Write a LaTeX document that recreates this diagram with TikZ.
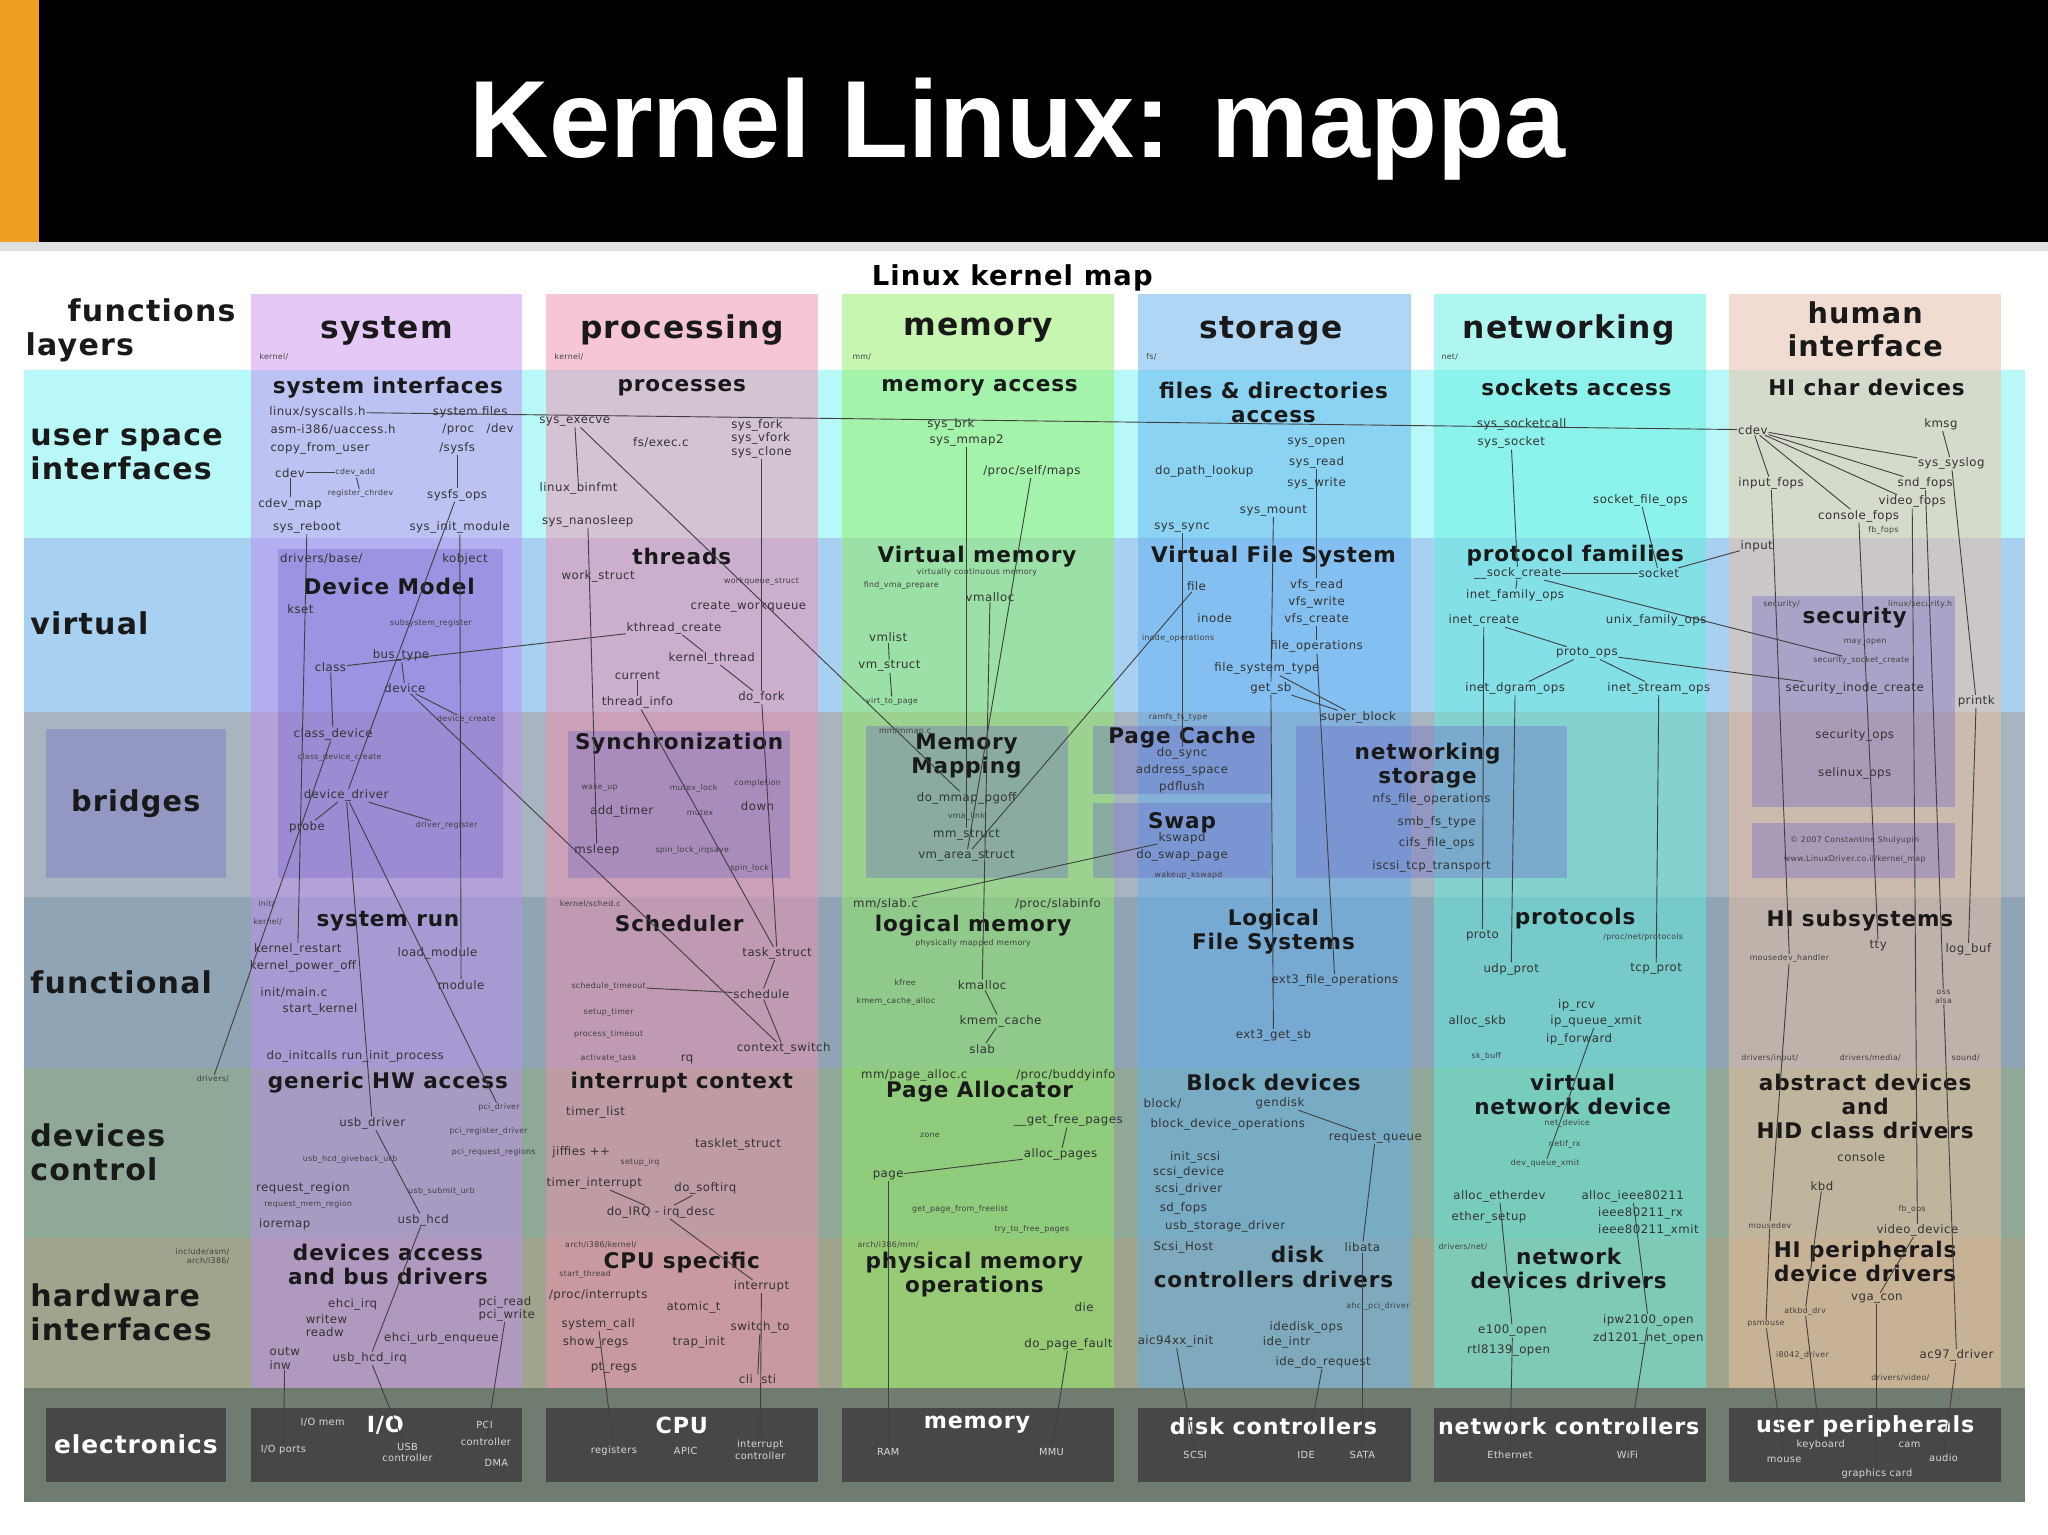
\documentclass[tikz,border=0pt]{standalone}
\usepackage{fontspec}
\setmainfont[LetterSpace=4]{DejaVu Sans}
\newfontfamily\titlefont{Liberation Sans}
\definecolor{bUSI}{HTML}{B8F8F8}
\definecolor{bVIR}{HTML}{A8D0F0}
\definecolor{bBRI}{HTML}{A8B4C0}
\definecolor{bFUN}{HTML}{8FA5B5}
\definecolor{bDEV}{HTML}{8FA898}
\definecolor{bHW}{HTML}{A0A48C}
\definecolor{bEL}{HTML}{707C70}
\definecolor{cSYS}{HTML}{C090F0}
\definecolor{cPRO}{HTML}{F090B0}
\definecolor{cMEM}{HTML}{90F060}
\definecolor{cSTO}{HTML}{60B0F0}
\definecolor{cNET}{HTML}{60F0E0}
\definecolor{cHUM}{HTML}{F0C0A0}
\definecolor{hSYS}{HTML}{E6C8F6}
\definecolor{hPRO}{HTML}{F6C6D6}
\definecolor{hMEM}{HTML}{C6F6B0}
\definecolor{hSTO}{HTML}{B0D6F6}
\definecolor{hNET}{HTML}{B0F6F0}
\definecolor{hHUM}{HTML}{F0DCD0}
\definecolor{iBOX}{HTML}{6A64C8}
\definecolor{orng}{HTML}{F0A020}
\begin{document}
\begin{tikzpicture}[x=1pt,y=-1pt,
  lbl/.style={inner sep=0.5pt,font=\fontsize{9}{10}\selectfont,text=black!80},
  tny/.style={inner sep=0.5pt,font=\fontsize{6}{7}\selectfont,text=black!75},
  hd/.style={inner sep=1pt,font=\fontsize{16.5}{18.5}\selectfont\bfseries,text=black!90,align=center},
  colhd/.style={inner sep=1pt,font=\fontsize{24}{25}\selectfont\bfseries,text=black!90,align=center},
  rowhd/.style={inner sep=1pt,font=\fontsize{23}{26}\selectfont\bfseries,text=black!90,align=left,anchor=west},
  ebox/.style={fill=black!72},
  eh/.style={inner sep=1pt,font=\fontsize{17}{18}\selectfont\bfseries,text=white,align=center},
  el/.style={inner sep=0.5pt,font=\fontsize{7.5}{8.5}\selectfont,text=white!85!black,align=center},
  ibox/.style={fill=iBOX,fill opacity=0.35},
  cn/.style={draw=black!75,line width=0.7pt}]
\useasboundingbox (0,0) rectangle (1568,1175);
\fill[white] (0,0) rectangle (1568,1175);
% title bar
\fill[black] (0,0) rectangle (1568,185);
\fill[orng] (0,0) rectangle (30,185);
\fill[black!12] (0,185) rectangle (1568,192);
\node[inner sep=0,font=\titlefont\fontsize{84}{90}\selectfont\bfseries,text=white] (title) at (779,99) {Kernel Linux: mappa};
\node[inner sep=1pt,font=\fontsize{21}{22}\selectfont\bfseries] (maptitle) at (775,213) {Linux kernel map};
% rows
\fill[bUSI] (18,283) rectangle (1550,412);
\fill[bVIR] (18,412) rectangle (1550,545);
\fill[bBRI] (18,545) rectangle (1550,687);
\fill[bFUN] (18,687) rectangle (1550,818);
\fill[bDEV] (18,818) rectangle (1550,948);
\fill[bHW] (18,948) rectangle (1550,1063);
\fill[bEL] (18,1063) rectangle (1550,1150);
% column headers
\fill[hSYS] (192,225) rectangle (400,283);
\fill[hPRO] (418,225) rectangle (626,283);
\fill[hMEM] (645,225) rectangle (853,283);
\fill[hSTO] (871,225) rectangle (1080,283);
\fill[hNET] (1098,225) rectangle (1306,283);
\fill[hHUM] (1324,225) rectangle (1532,283);
% column overlays
\begin{scope}[fill opacity=0.5]
\fill[cSYS] (192,283) rectangle (400,1063);
\fill[cPRO] (418,283) rectangle (626,1063);
\fill[cMEM] (645,283) rectangle (853,1063);
\fill[cSTO] (871,283) rectangle (1080,1063);
\fill[cNET] (1098,283) rectangle (1306,1063);
\fill[cHUM] (1324,283) rectangle (1532,1063);
\end{scope}
% inner boxes
\fill[ibox] (213,420) rectangle (385,672);
\fill[ibox] (435,560) rectangle (605,672);
\fill[ibox] (663,556) rectangle (818,672);
\fill[ibox] (837,556) rectangle (973,608);
\fill[ibox] (837,615) rectangle (973,672);
\fill[ibox] (992,556) rectangle (1200,672);
\fill[ibox] (1341,456) rectangle (1497,618);
\fill[ibox] (1341,630) rectangle (1497,672);
\fill[ibox] (35,558) rectangle (173,672);
% electronics boxes
\foreach \a/\b in {35/173,192/400,418/626,645/853,871/1080,1098/1306,1324/1532}
  \fill[ebox] (\a,1078) rectangle (\b,1135);
% row labels
\node[rowhd,anchor=center] (rfl) at (100,253) {\hspace*{1.4em}functions\\layers};
\node[rowhd] (rusi) at (22,348) {user space\\interfaces};
\node[rowhd] (rvirt) at (22,477) {virtual};
\node[colhd,font=\fontsize{22}{24}\selectfont\bfseries] (rbr) at (104,615) {bridges};
\node[rowhd] (rfun) at (22,752) {functional};
\node[rowhd] (rdc) at (22,882) {devices\\control};
\node[rowhd] (rhw) at (22,1005) {hardware\\interfaces};
% column headers
\node[colhd] (csys) at (296,253) {system};
\node[colhd] (cproc) at (522,253) {processing};
\node[colhd] (cmem) at (749,253) {memory};
\node[colhd] (csto) at (973,253) {storage};
\node[colhd] (cnet) at (1201,253) {networking};
\node[colhd,font=\fontsize{22}{25}\selectfont\bfseries] (chi) at (1428,252) {human\\interface};
\node[tny,anchor=west] (pk1) at (198,273) {kernel/};
\node[tny,anchor=west] (pk2) at (424,273) {kernel/};
\node[tny,anchor=west] (pk3) at (652,273) {mm/};
\node[tny,anchor=west] (pk4) at (877,273) {fs/};
\node[tny,anchor=west] (pk5) at (1103,273) {net/};
%% ---------------- system column
\node[hd] (sysint) at (297,297) {system interfaces};
\node[lbl] (syscallsh) at (243,316) {linux/syscalls.h};
\node[lbl] (uaccess) at (255,329) {asm-i386/uaccess.h};
\node[lbl] (cfu) at (245,343) {copy\_from\_user};
\node[lbl] (sysfiles) at (360,316) {system files};
\node[lbl] (procdev) at (366,329) {/proc~~~/dev};
\node[lbl] (sysfs) at (350,343) {/sysfs};
\node[lbl] (cdev) at (222,362) {cdev};
\node[tny] (cdevadd) at (272,362) {cdev\_add};
\node[tny] (regchr) at (276,378) {register\_chrdev};
\node[lbl] (cdevmap) at (222,386) {cdev\_map};
\node[lbl] (sysfsops) at (350,379) {sysfs\_ops};
\node[lbl] (sysreboot) at (235,404) {sys\_reboot};
\node[lbl] (sysinit) at (352,404) {sys\_init\_module};
\node[lbl] (drvbase) at (246,428) {drivers/base/};
\node[lbl] (kobject) at (356,428) {kobject};
\node[hd] (devmodel) at (298,449) {Device Model};
\node[lbl] (kset) at (230,466) {kset};
\node[tny] (subsreg) at (330,477) {subsystem\_register};
\node[lbl] (bustype) at (307,502) {bus\_type};
\node[lbl] (class) at (253,511) {class};
\node[lbl] (device) at (310,527) {device};
\node[tny] (devcreate) at (357,551) {device\_create};
\node[lbl] (classdev) at (255,562) {class\_device};
\node[tny] (classdevc) at (260,580) {class\_device\_create};
\node[lbl] (devdrv) at (265,609) {device\_driver};
\node[lbl] (probe) at (235,633) {probe};
\node[tny] (drvreg) at (342,632) {driver\_register};
\node[tny] (init) at (204,692) {init/};
\node[tny] (kernel2) at (205,706) {kernel/};
\node[hd] (sysrun) at (297,705) {system run};
\node[lbl] (krestart) at (228,727) {kernel\_restart};
\node[lbl] (kpoweroff) at (232,740) {kernel\_power\_off};
\node[lbl] (loadmod) at (335,730) {load\_module};
\node[lbl] (mainc) at (225,760) {init/main.c};
\node[lbl] (module) at (353,754) {module};
\node[lbl] (startk) at (245,773) {start\_kernel};
\node[lbl] (initcalls) at (272,809) {do\_initcalls run\_init\_process};
\node[tny] (drivers) at (163,826) {drivers/};
\node[hd] (genhw) at (297,829) {generic HW access};
\node[tny] (pcidrv) at (382,848) {pci\_driver};
\node[lbl] (usbdrv) at (285,860) {usb\_driver};
\node[tny] (pciregdrv) at (374,866) {pci\_register\_driver};
\node[tny] (giveback) at (268,888) {usb\_hcd\_giveback\_urb};
\node[tny] (pcireq) at (378,882) {pci\_request\_regions};
\node[lbl] (reqreg) at (232,910) {request\_region};
\node[tny] (usbsubmit) at (338,912) {usb\_submit\_urb};
\node[tny] (reqmem) at (236,922) {request\_mem\_region};
\node[lbl] (usbhcd) at (324,934) {usb\_hcd};
\node[lbl] (ioremap) at (218,937) {ioremap};
\node[tny,align=right] (incasm) at (155,962) {include/asm/\\arch/i386/};
\node[hd] (devacc) at (297,968) {devices access\\and bus drivers};
\node[lbl] (ehciirq) at (270,999) {ehci\_irq};
\node[lbl,align=left] (pcirw) at (388,1002) {pci\_read\\pci\_write};
\node[lbl,align=left] (writew) at (250,1015) {writew\\readw};
\node[lbl] (ehcienq) at (338,1025) {ehci\_urb\_enqueue};
\node[lbl,align=left] (outw) at (218,1040) {outw\\inw};
\node[lbl] (usbhcdirq) at (283,1040) {usb\_hcd\_irq};
%% ---------------- processing column
\node[hd] (processes) at (522,297) {processes};
\node[lbl] (execve) at (440,323) {sys\_execve};
\node[lbl] (fsexec) at (506,339) {fs/exec.c};
\node[lbl,align=left] (sysfork) at (583,336) {sys\_fork\\sys\_vfork\\sys\_clone};
\node[lbl] (binfmt) at (443,374) {linux\_binfmt};
\node[lbl] (nanosleep) at (450,399) {sys\_nanosleep};
\node[hd] (threads) at (522,426) {threads};
\node[lbl] (workstruct) at (458,441) {work\_struct};
\node[tny] (wqstruct) at (583,445) {workqueue\_struct};
\node[lbl] (createwq) at (573,464) {create\_workqueue};
\node[lbl] (kthread) at (516,481) {kthread\_create};
\node[lbl] (kernthread) at (545,504) {kernel\_thread};
\node[lbl] (current) at (488,517) {current};
\node[lbl] (threadinfo) at (488,538) {thread\_info};
\node[lbl] (dofork) at (583,534) {do\_fork};
\node[hd] (sync) at (520,569) {Synchronization};
\node[tny] (wakeup) at (459,603) {wake\_up};
\node[tny] (mutexlock) at (531,604) {mutex\_lock};
\node[tny] (completion) at (580,600) {completion};
\node[lbl] (addtimer) at (476,621) {add\_timer};
\node[tny] (mutex) at (536,622) {mutex};
\node[lbl] (down) at (580,617) {down};
\node[lbl] (msleep) at (457,651) {msleep};
\node[tny] (spinirq) at (530,651) {spin\_lock\_irqsave};
\node[tny] (spinlock) at (574,665) {spin\_lock};
\node[tny] (schedc) at (452,692) {kernel/sched.c};
\node[hd] (sched) at (520,707) {Scheduler};
\node[lbl] (taskstruct) at (595,730) {task\_struct};
\node[tny] (schedto) at (466,755) {schedule\_timeout};
\node[lbl] (schedule) at (583,761) {schedule};
\node[tny] (setuptimer) at (466,775) {setup\_timer};
\node[tny] (proctimeout) at (466,792) {process\_timeout};
\node[tny] (acttask) at (466,810) {activate\_task};
\node[lbl] (rq) at (526,811) {rq};
\node[lbl] (ctxsw) at (600,803) {context\_switch};
\node[hd] (intctx) at (522,829) {interrupt context};
\node[lbl] (timerlist) at (456,852) {timer\_list};
\node[lbl] (tasklet) at (565,876) {tasklet\_struct};
\node[lbl] (jiffies) at (445,882) {jiffies ++};
\node[tny] (setupirq) at (490,890) {setup\_irq};
\node[lbl] (timerint) at (455,906) {timer\_interrupt};
\node[lbl] (softirq) at (540,910) {do\_softirq};
\node[lbl] (doirq) at (506,928) {do\_IRQ - irq\_desc};
\node[tny] (archk) at (460,953) {arch/i386/kernel/};
\node[hd] (cpuspec) at (522,967) {CPU specific};
\node[tny] (startthr) at (448,976) {start\_thread};
\node[lbl] (interrupt) at (583,985) {interrupt};
\node[lbl] (procint) at (458,992) {/proc/interrupts};
\node[lbl] (atomic) at (531,1001) {atomic\_t};
\node[lbl] (syscall) at (458,1014) {system\_call};
\node[lbl] (switchto) at (582,1016) {switch\_to};
\node[lbl] (showregs) at (456,1028) {show\_regs};
\node[lbl] (trapinit) at (535,1028) {trap\_init};
\node[lbl] (ptregs) at (470,1047) {pt\_regs};
\node[lbl] (clisti) at (580,1056) {cli~~sti};
%% ---------------- memory column
\node[hd] (memacc) at (750,297) {memory access};
\node[lbl] (sysbrk) at (728,325) {sys\_brk};
\node[lbl] (sysmmap) at (740,337) {sys\_mmap2};
\node[lbl] (selfmaps) at (790,361) {/proc/self/maps};
\node[hd] (virtmem) at (748,426) {Virtual memory};
\node[tny] (vcm) at (748,438) {virtually continuous memory};
\node[tny] (findvma) at (690,448) {find\_vma\_prepare};
\node[lbl] (vmalloc) at (758,457) {vmalloc};
\node[lbl] (vmlist) at (680,488) {vmlist};
\node[lbl] (vmstruct) at (681,510) {vm\_struct};
\node[tny] (virtpage) at (683,537) {virt\_to\_page};
\node[tny] (mmapc) at (693,560) {mm/mmap.c};
\node[hd] (memmap) at (740,579) {Memory\\Mapping};
\node[lbl] (dommap) at (740,611) {do\_mmap\_pgoff};
\node[tny] (vmalink) at (740,625) {vma\_link};
\node[lbl] (mmstruct) at (740,639) {mm\_struct};
\node[lbl] (vmarea) at (740,655) {vm\_area\_struct};
\node[lbl] (slabc) at (678,692) {mm/slab.c};
\node[lbl] (slabinfo) at (810,692) {/proc/slabinfo};
\node[hd] (logmem) at (745,709) {logical memory};
\node[tny] (physmapped) at (745,722) {physically mapped memory};
\node[tny] (kfree) at (693,752) {kfree};
\node[lbl] (kmalloc) at (752,754) {kmalloc};
\node[tny] (kmcalloc) at (686,767) {kmem\_cache\_alloc};
\node[lbl] (kmcache) at (766,782) {kmem\_cache};
\node[lbl] (slab) at (752,803) {slab};
\node[lbl] (pagealloc) at (700,823) {mm/page\_alloc.c};
\node[lbl] (buddy) at (816,823) {/proc/buddyinfo};
\node[hd] (pgalloc) at (750,836) {Page Allocator};
\node[lbl] (getfree) at (818,858) {\_\_get\_free\_pages};
\node[tny] (zone) at (712,869) {zone};
\node[lbl] (allocpages) at (812,884) {alloc\_pages};
\node[lbl] (page) at (680,900) {page};
\node[tny] (gpff) at (735,926) {get\_page\_from\_freelist};
\node[tny] (ttfp) at (790,941) {try\_to\_free\_pages};
\node[tny] (archmm) at (680,953) {arch/i386/mm/};
\node[hd] (physmem) at (746,976) {physical memory\\operations};
\node[lbl] (die) at (830,1001) {die};
\node[lbl] (pagefault) at (818,1029) {do\_page\_fault};
%% ---------------- storage column
\node[hd] (filesacc) at (975,308) {files \& directories\\access};
\node[lbl] (sysopen) at (1008,339) {sys\_open};
\node[lbl] (pathlookup) at (922,361) {do\_path\_lookup};
\node[lbl] (sysread) at (1008,354) {sys\_read};
\node[lbl] (syswrite) at (1008,370) {sys\_write};
\node[lbl] (sysmount) at (975,391) {sys\_mount};
\node[lbl] (syssync) at (905,404) {sys\_sync};
\node[hd] (vfs) at (975,426) {Virtual File System};
\node[lbl] (file) at (916,449) {file};
\node[lbl] (vfsread) at (1008,448) {vfs\_read};
\node[lbl] (vfswrite) at (1008,461) {vfs\_write};
\node[lbl] (inode) at (930,473) {inode};
\node[lbl] (vfscreate) at (1008,474) {vfs\_create};
\node[tny] (inodeops) at (902,489) {inode\_operations};
\node[lbl] (fileops) at (1008,495) {file\_operations};
\node[lbl] (fstype) at (970,512) {file\_system\_type};
\node[lbl] (getsb) at (973,527) {get\_sb};
\node[tny] (ramfs) at (902,549) {ramfs\_fs\_type};
\node[lbl] (superblock) at (1040,549) {super\_block};
\node[hd] (pagecache) at (905,565) {Page Cache};
\node[lbl] (dosync) at (905,577) {do\_sync};
\node[lbl] (addrspace) at (905,590) {address\_space};
\node[lbl] (pdflush) at (905,603) {pdflush};
\node[hd] (swap) at (905,630) {Swap};
\node[lbl] (kswapd) at (905,642) {kswapd};
\node[lbl] (doswap) at (905,655) {do\_swap\_page};
\node[tny] (wakekswapd) at (910,670) {wakeup\_kswapd};
\node[hd] (netsto) at (1093,586) {networking\\storage};
\node[lbl] (nfsops) at (1096,612) {nfs\_file\_operations};
\node[lbl] (smbfs) at (1100,630) {smb\_fs\_type};
\node[lbl] (cifs) at (1100,646) {cifs\_file\_ops};
\node[lbl] (iscsi) at (1096,663) {iscsi\_tcp\_transport};
\node[hd] (lfs) at (975,713) {Logical\\File Systems};
\node[lbl] (ext3ops) at (1022,751) {ext3\_file\_operations};
\node[lbl] (ext3sb) at (975,793) {ext3\_get\_sb};
\node[hd] (blockdev) at (975,829) {Block devices};
\node[lbl] (block) at (890,845) {block/};
\node[lbl] (gendisk) at (980,845) {gendisk};
\node[lbl] (bdops) at (940,861) {block\_device\_operations};
\node[lbl] (reqq) at (1053,871) {request\_queue};
\node[lbl] (initscsi) at (915,886) {init\_scsi};
\node[lbl] (scsidev) at (910,898) {scsi\_device};
\node[lbl] (scsidrv) at (910,911) {scsi\_driver};
\node[lbl] (sdfops) at (906,925) {sd\_fops};
\node[lbl] (usbsto) at (938,939) {usb\_storage\_driver};
\node[lbl] (scsihost) at (906,955) {Scsi\_Host};
\node[lbl] (libata) at (1043,955) {libata};
\node[hd] (diskdrv) at (975,970) {\hspace*{2.2em}disk\\controllers drivers};
\node[tny] (ahci) at (1055,1000) {ahci\_pci\_driver};
\node[lbl] (idedisk) at (1000,1016) {idedisk\_ops};
\node[lbl] (aic) at (900,1027) {aic94xx\_init};
\node[lbl] (ideintr) at (985,1028) {ide\_intr};
\node[lbl] (idedoreq) at (1013,1043) {ide\_do\_request};
%% ---------------- networking column
\node[hd] (sockacc) at (1207,297) {sockets access};
\node[lbl] (socketcall) at (1165,325) {sys\_socketcall};
\node[lbl] (syssocket) at (1157,339) {sys\_socket};
\node[lbl] (sockfops) at (1256,383) {socket\_file\_ops};
\node[hd] (protfam) at (1206,425) {protocol families};
\node[lbl] (sockcreate) at (1162,439) {\_\_sock\_create};
\node[lbl] (socket) at (1270,439) {socket};
\node[lbl] (inetfam) at (1160,456) {inet\_family\_ops};
\node[lbl] (inetcreate) at (1136,475) {inet\_create};
\node[lbl] (unixfam) at (1268,475) {unix\_family\_ops};
\node[lbl] (protoops) at (1215,500) {proto\_ops};
\node[lbl] (dgram) at (1160,527) {inet\_dgram\_ops};
\node[lbl] (stream) at (1270,527) {inet\_stream\_ops};
\node[hd] (protocols) at (1206,703) {protocols};
\node[lbl] (proto) at (1135,716) {proto};
\node[tny] (procnet) at (1258,718) {/proc/net/protocols};
\node[lbl] (udpprot) at (1157,742) {udp\_prot};
\node[lbl] (tcpprot) at (1268,742) {tcp\_prot};
\node[lbl] (iprcv) at (1207,770) {ip\_rcv};
\node[lbl] (allocskb) at (1131,782) {alloc\_skb};
\node[lbl] (ipqx) at (1222,782) {ip\_queue\_xmit};
\node[lbl] (ipfwd) at (1209,796) {ip\_forward};
\node[tny] (skbuff) at (1138,809) {sk\_buff};
\node[hd] (vnd) at (1204,838) {virtual\\network device};
\node[tny] (netdevice) at (1200,860) {net\_device};
\node[tny] (netifrx) at (1198,876) {netif\_rx};
\node[tny] (dqx) at (1183,891) {dev\_queue\_xmit};
\node[lbl] (allocether) at (1148,916) {alloc\_etherdev};
\node[lbl] (allocieee) at (1250,916) {alloc\_ieee80211};
\node[lbl] (ieeerx) at (1256,929) {ieee80211\_rx};
\node[lbl] (ethsetup) at (1140,932) {ether\_setup};
\node[lbl] (ieeexmit) at (1262,942) {ieee80211\_xmit};
\node[tny] (drvnet) at (1120,955) {drivers/net/};
\node[hd] (netdrv) at (1201,971) {network\\devices drivers};
\node[lbl] (ipw) at (1262,1011) {ipw2100\_open};
\node[lbl] (e100) at (1158,1019) {e100\_open};
\node[lbl] (zd) at (1262,1025) {zd1201\_net\_open};
\node[lbl] (rtl) at (1155,1034) {rtl8139\_open};
%% ---------------- human interface column
\node[hd] (hichar) at (1429,297) {HI char devices};
\node[lbl] (hcdev) at (1342,329) {cdev};
\node[lbl] (kmsg) at (1486,325) {kmsg};
\node[lbl] (syslog) at (1494,355) {sys\_syslog};
\node[lbl] (inputfops) at (1356,370) {input\_fops};
\node[lbl] (sndfops) at (1474,370) {snd\_fops};
\node[lbl] (videofops) at (1464,384) {video\_fops};
\node[lbl] (consfops) at (1423,395) {console\_fops};
\node[tny] (fbfops) at (1442,406) {fb\_fops};
\node[lbl] (input) at (1345,418) {input};
\node[tny] (secdir) at (1364,463) {security/};
\node[tny] (sech) at (1470,463) {linux/security.h};
\node[hd] (security) at (1420,473) {security};
\node[tny] (mayopen) at (1428,492) {may\_open};
\node[tny] (secsock) at (1425,506) {security\_socket\_create};
\node[lbl] (secinode) at (1420,527) {security\_inode\_create};
\node[lbl] (printk) at (1513,537) {printk};
\node[lbl] (secops) at (1420,563) {security\_ops};
\node[lbl] (selinux) at (1420,592) {selinux\_ops};
\node[tny] (copyr) at (1420,643) {\textcopyright{} 2007 Constantine Shulyupin};
\node[tny] (www) at (1420,658) {www.LinuxDriver.co.il/kernel\_map};
\node[hd] (hisub) at (1424,705) {HI subsystems};
\node[lbl] (tty) at (1438,724) {tty};
\node[lbl] (logbuf) at (1507,727) {log\_buf};
\node[tny] (mousedevh) at (1370,734) {mousedev\_handler};
\node[tny,align=center] (ossalsa) at (1488,763) {oss\\alsa};
\node[tny] (drvinput) at (1355,810) {drivers/input/};
\node[tny] (drvmedia) at (1432,810) {drivers/media/};
\node[tny] (sound) at (1505,810) {sound/};
\node[hd] (absdev) at (1428,847) {abstract devices\\and\\HID class drivers};
\node[lbl] (console) at (1425,886) {console};
\node[lbl] (kbd) at (1395,908) {kbd};
\node[tny] (fbops) at (1464,926) {fb\_ops};
\node[tny] (mousedev) at (1355,938) {mousedev};
\node[lbl] (videodev) at (1468,942) {video\_device};
\node[hd] (hiper) at (1428,966) {HI peripherals\\device drivers};
\node[lbl] (vgacon) at (1437,994) {vga\_con};
\node[tny] (atkbd) at (1382,1004) {atkbd\_drv};
\node[tny] (psmouse) at (1352,1014) {psmouse};
\node[tny] (i8042) at (1380,1038) {i8042\_driver};
\node[lbl] (ac97) at (1498,1038) {ac97\_driver};
\node[tny] (drvvideo) at (1455,1055) {drivers/video/};
%% ---------------- electronics
\node[eh,font=\fontsize{19}{20}\selectfont\bfseries] (elec) at (104,1106) {electronics};
\node[el] (iomem) at (247,1089) {I/O mem};
\node[eh] (io) at (295,1091) {I/O};
\node[el] (pci) at (371,1091) {PCI};
\node[el] (ioports) at (217,1110) {I/O ports};
\node[el] (usbc) at (312,1112) {USB\\controller};
\node[el] (pcic) at (372,1104) {controller};
\node[el] (dma) at (380,1120) {DMA};
\node[eh] (cpu) at (522,1091) {CPU};
\node[el] (regs) at (470,1111) {registers};
\node[el] (apic) at (525,1111) {APIC};
\node[el] (intc) at (582,1110) {interrupt\\controller};
\node[eh] (emem) at (748,1091) {memory};
\node[el] (ram) at (680,1112) {RAM};
\node[el] (mmu) at (805,1112) {MMU};
\node[eh] (diskc) at (975,1092) {disk controllers};
\node[el] (scsi) at (915,1114) {SCSI};
\node[el] (ide) at (1000,1114) {IDE};
\node[el] (sata) at (1043,1114) {SATA};
\node[eh] (netc) at (1201,1092) {network controllers};
\node[el] (eth) at (1156,1114) {Ethernet};
\node[el] (wifi) at (1246,1114) {WiFi};
\node[eh] (userp) at (1428,1092) {user peripherals};
\node[el] (keyb) at (1394,1106) {keyboard};
\node[el] (mouse) at (1366,1118) {mouse};
\node[el] (cam) at (1462,1106) {cam};
\node[el] (audio) at (1488,1116) {audio};
\node[el] (gcard) at (1437,1128) {graphics card};
%% ---------------- connectors
\begin{scope}[cn]
\draw (cdev) -- (cdevmap);
\draw (cdev) -- (cdevadd);
\draw (cdevadd) -- (regchr);
\draw (sysfs) -- (sysfsops);
\draw (sysfsops) -- (devdrv);
\draw (sysreboot) -- (krestart);
\draw (sysinit) -- (module);
\draw (class) -- (classdev);
\draw (bustype) -- (device);
\draw (class) -- (kthread);
\draw (device) -- (devcreate);
\draw (device) -- (ctxsw);
\draw (devdrv) -- (probe);
\draw (devdrv) -- (drvreg);
\draw (devdrv) -- (usbdrv);
\draw (devdrv) -- (pcidrv);
\draw (classdev) -- (drivers);
\draw (usbdrv) -- (usbhcd);
\draw (usbhcd) -- (usbhcdirq);
\draw (usbhcdirq) -- (usbc);
\draw (pcirw) -- (pcic);
\draw (outw) -- (ioports);
\draw (execve) -- (binfmt);
\draw (execve) -- (dommap);
\draw (sysfork) -- (dofork);
\draw (kthread) -- (kernthread);
\draw (kernthread) -- (dofork);
\draw (current) -- (threadinfo);
\draw (nanosleep) -- (msleep);
\draw (threadinfo) -- (taskstruct);
\draw (dofork) -- (taskstruct);
\draw (taskstruct) -- (schedule);
\draw (schedule) -- (ctxsw);
\draw (schedto) -- (schedule);
\draw (timerint) -- (doirq);
\draw (softirq) -- (doirq);
\draw (doirq) -- (interrupt);
\draw (interrupt) -- (intc);
\draw (switchto) -- (clisti);
\draw (syscall) -- (regs);
\draw (sysmmap) -- (mmstruct);
\draw (selfmaps) -- (vmarea);
\draw (vmalloc) -- (kmalloc);
\draw (vmlist) -- (vmstruct);
\draw (vmstruct) -- (virtpage);
\draw (file) -- (vmarea);
\draw (kmalloc) -- (kmcache);
\draw (kmcache) -- (slab);
\draw (getfree) -- (allocpages);
\draw (allocpages) -- (page);
\draw (page) -- (ram);
\draw (pagefault) -- (mmu);
\draw (sysread) -- (vfsread);
\draw (sysmount) -- (getsb);
\draw (syssync) -- (dosync);
\draw (vfscreate) -- (fileops);
\draw (fstype) -- (superblock);
\draw (getsb) -- (superblock);
\draw (fileops) -- (ext3ops);
\draw (getsb) -- (ext3sb);
\draw (kswapd) -- (slabc);
\draw (gendisk) -- (reqq);
\draw (reqq) -- (libata);
\draw (libata) -- (sata);
\draw (idedoreq) -- (ide);
\draw (aic) -- (scsi);
\draw (syssocket) -- (sockcreate);
\draw (sockfops) -- (socket);
\draw (sockcreate) -- (socket);
\draw (sockcreate) -- (inetfam);
\draw (sockcreate) -- (secsock);
\draw (inetcreate) -- (protoops);
\draw (protoops) -- (dgram);
\draw (protoops) -- (stream);
\draw (protoops) -- (secinode);
\draw (inetcreate) -- (proto);
\draw (dgram) -- (udpprot);
\draw (stream) -- (tcpprot);
\draw (ipqx) -- (dqx);
\draw (allocether) -- (e100);
\draw (allocieee) -- (ipw);
\draw (e100) -- (eth);
\draw (ipw) -- (wifi);
\draw (hcdev) -- (inputfops);
\draw (hcdev) -- (sndfops);
\draw (hcdev) -- (videofops);
\draw (hcdev) -- (consfops);
\draw (hcdev) -- (syslog);
\draw (kmsg) -- (syslog);
\draw (syslog) -- (printk);
\draw (printk) -- (logbuf);
\draw (inputfops) -- (mousedevh);
\draw (consfops) -- (tty);
\draw (videofops) -- (videodev);
\draw (sndfops) -- (ossalsa);
\draw (ossalsa) -- (ac97);
\draw (ac97) -- (audio);
\draw (videodev) -- (vgacon);
\draw (vgacon) -- (gcard);
\draw (mousedevh) -- (mousedev);
\draw (mousedev) -- (psmouse);
\draw (kbd) -- (atkbd);
\draw (atkbd) -- (keyb);
\draw (psmouse) -- (mouse);
\draw (hcdev) -- (syscallsh.east);
\draw (input) -- (socket);
\end{scope}
\end{tikzpicture}
\end{document}
